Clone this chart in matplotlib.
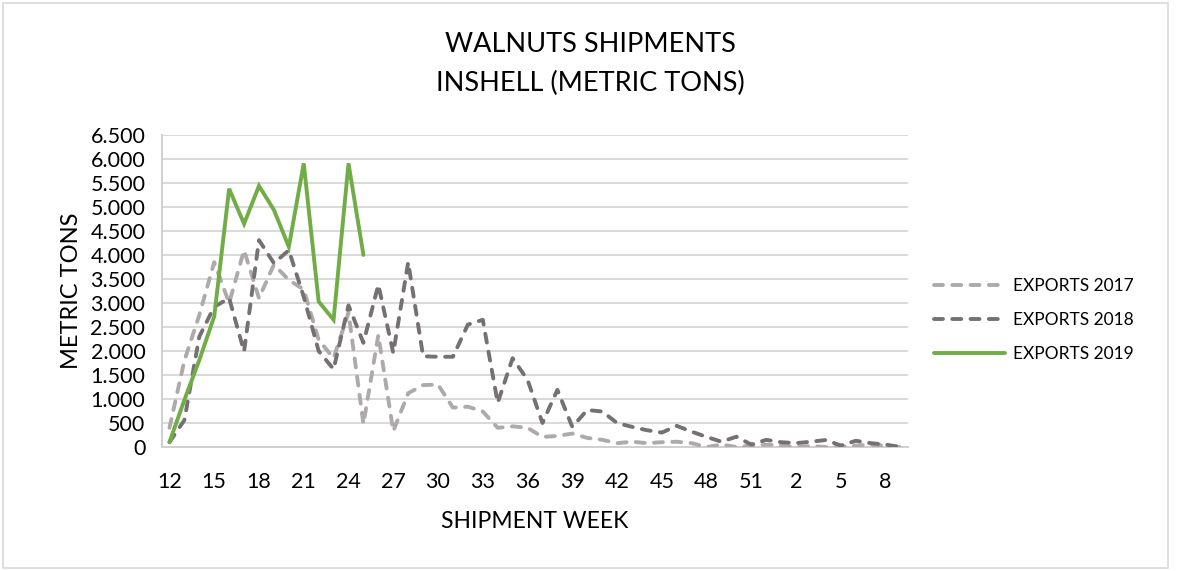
import numpy as np
import matplotlib
matplotlib.use("Agg")
from matplotlib import pyplot as plt
from matplotlib.patches import Rectangle

plt.rcParams["font.family"] = ["Lato", "DejaVu Sans"]

# shipment weeks: 12..52 then 1..9 of next year
weeks = list(range(12, 53)) + list(range(1, 10))

exports_2017 = [400, 1800, 2750, 3850, 3000, 4100, 3100, 3800, 3480, 3280,
                2230, 1850, 2800, 480, 2330, 330, 1120, 1290, 1300, 820,
                840, 740, 400, 430, 400, 210, 230, 280, 190, 150,
                80, 110, 80, 100, 110, 80, 0, 50, 0, 30,
                50, 30, 0, 20, 0, 10, 30, 50, 30, 0]
exports_2018 = [100, 560, 2300, 2920, 3100, 1990, 4310, 3830, 4100, 3130,
                2000, 1620, 2950, 2170, 3380, 1960, 3850, 1890, 1880, 1880,
                2550, 2650, 920, 1850, 1400, 500, 1190, 420, 770, 740,
                500, 420, 350, 300, 440, 320, 210, 110, 215, 50,
                150, 100, 80, 110, 146, 30, 130, 80, 50, 0]
exports_2019 = [100, 980, 1810, 2720, 5380, 4650, 5440, 4940, 4170, 5910,
                3030, 2650, 5910, 4000]

y_ticks = list(range(0, 6501, 500))
y_tick_labels = [f"{v:,}".replace(",", ".") for v in y_ticks]

W, H = 1178, 571
fig = plt.figure(figsize=(W / 100, H / 100), dpi=100)
ax = fig.add_axes([162 / W, 1 - 447 / H, (908 - 162) / W, (447 - 135) / H])

x = np.arange(len(weeks))
ax.plot(x, exports_2017, color="#AEAAAA", lw=2.8, ls=(0, (2.3, 2.4)),
        dash_capstyle="round", label="EXPORTS 2017", zorder=3)
ax.plot(x, exports_2018, color="#767171", lw=2.8, ls=(0, (2.3, 2.4)),
        dash_capstyle="round", label="EXPORTS 2018", zorder=4)
ax.plot(x[:len(exports_2019)], exports_2019, color="#70AD47", lw=2.8,
        solid_capstyle="round", solid_joinstyle="miter", label="EXPORTS 2019", zorder=5)

ax.set_xlim(-0.5, len(weeks) - 0.5)
ax.set_ylim(0, 6500)
ax.set_yticks(y_ticks)
ax.set_yticklabels(y_tick_labels)
ax.set_xticks(x[::3])
ax.set_xticklabels([str(w) for w in weeks[::3]])
ax.tick_params(axis="both", length=0, labelsize=15.5, colors="#000000")
ax.tick_params(axis="x", pad=18)
ax.tick_params(axis="y", pad=12)

ax.grid(axis="y", color="#D9D9D9", lw=1.4)
ax.set_axisbelow(True)
for side in ["top", "right"]:
    ax.spines[side].set_visible(False)
for side in ["left", "bottom"]:
    ax.spines[side].set_color("#D0D0D0")
    ax.spines[side].set_linewidth(1.4)

ax.set_ylabel("METRIC TONS", fontsize=17, labelpad=6)
fig.text(535 / W, 1 - 522 / H, "SHIPMENT WEEK", fontsize=16.5, ha="center", va="center")

fig.text(590 / W, 1 - 45 / H, "WALNUTS SHIPMENTS", fontsize=19.5, ha="center", va="center")
fig.text(590 / W, 1 - 83 / H, "INSHELL (METRIC TONS)", fontsize=19.5, ha="center", va="center")

leg = fig.legend(loc="center left", bbox_to_anchor=(918 / W, 1 - 320 / H),
                 frameon=False, fontsize=12.5, handlelength=4.1,
                 labelspacing=1.05, handletextpad=0.45)

# chart border
fig.patches.append(Rectangle((3 / W, 3 / H), (1168 - 3) / W, (568 - 3) / H,
                             transform=fig.transFigure, fill=False,
                             edgecolor="#D9D9D9", lw=1.2))

fig.savefig("out.png", dpi=100)
